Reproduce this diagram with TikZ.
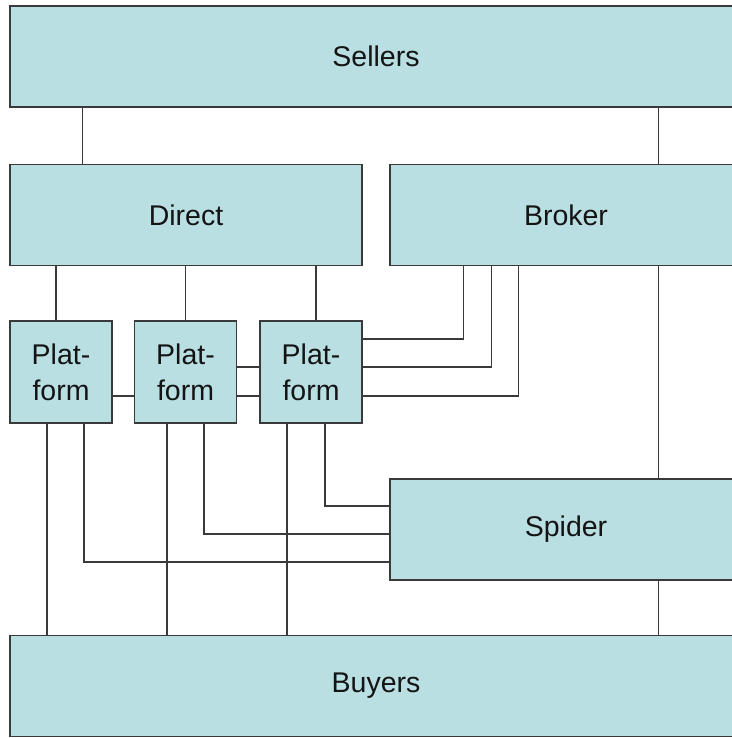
\documentclass[tikz,border=0pt]{standalone}
\usepackage{fontspec}
\setmainfont{Liberation Sans}
\usetikzlibrary{positioning, calc}
\definecolor{BoxTeal}{HTML}{B9DFE3}
\definecolor{EdgeGrey}{HTML}{3A3A3A}
\definecolor{InkBlack}{HTML}{141414}

\begin{document}
\begin{tikzpicture}[
    x=1pt, y=-1pt,
    box/.style={rectangle, draw=EdgeGrey, fill=BoxTeal, line width=1.5pt,
                inner sep=0pt, text=InkBlack, align=center,
                font=\fontsize{28.5}{36}\selectfont},
    wide/.style={box, minimum width=732pt, minimum height=101pt},
    half/.style={box, minimum width=352pt, minimum height=101pt},
    plat/.style={box, minimum width=102pt, minimum height=102pt},
    link/.style={draw=EdgeGrey, line width=1.5pt}
]
  \useasboundingbox (0,0) rectangle (731,738);

  \node[wide] (sellers) at (376,56.5) {Sellers};
  \node[half] (direct) at (186,215) {Direct};
  \node[half] (broker) at (566,215) {Broker};
  \node[plat] (p1) at (61,372) {Plat-\\form};
  \node[plat] (p2) at (185.5,372) {Plat-\\form};
  \node[plat] (p3) at (311,372) {Plat-\\form};
  \node[half] (spider) at (566,529.5) {Spider};
  \node[wide] (buyers) at (376,686) {Buyers};

  % sellers to channels
  \draw[link] ([xshift=73pt]direct.north west) coordinate (sd) -- (sd |- sellers.south);
  \draw[link] ([xshift=269pt]broker.north west) coordinate (sb) -- (sb |- sellers.south);

  % direct to platforms
  \draw[link] ([xshift=-5pt]p1.north) coordinate (d1) -- (d1 |- direct.south);
  \draw[link] (p2.north) -- (p2.north |- direct.south);
  \draw[link] ([xshift=5pt]p3.north) coordinate (d3) -- (d3 |- direct.south);

  % platforms side by side
  \draw[link] ([yshift=-24pt]p1.east) coordinate (q1) -- (q1 -| p2.west);
  \draw[link] ([yshift=5pt]p2.east) coordinate (q2) -- (q2 -| p3.west);
  \draw[link] ([yshift=-24pt]p2.east) coordinate (q3) -- (q3 -| p3.west);

  % platform to broker
  \draw[link] ([yshift=33pt]p3.east) -| ([xshift=74pt]broker.south west);
  \draw[link] ([yshift=5pt]p3.east) -| ([xshift=102pt]broker.south west);
  \draw[link] ([yshift=-24pt]p3.east) -| ([xshift=129pt]broker.south west);

  % broker, spider, buyers
  \draw[link] ([xshift=269pt]broker.south west) -- ([xshift=269pt]spider.north west);
  \draw[link] ([xshift=269pt]spider.south west) coordinate (sy) -- (sy |- buyers.north);

  % platforms to spider
  \draw[link] ([xshift=23pt]p1.south) |- ([yshift=-32.5pt]spider.west);
  \draw[link] ([xshift=18.5pt]p2.south) |- ([yshift=-4.5pt]spider.west);
  \draw[link] ([xshift=14pt]p3.south) |- ([yshift=23.5pt]spider.west);

  % platforms to buyers
  \draw[link] ([xshift=-14pt]p1.south) coordinate (b1) -- (b1 |- buyers.north);
  \draw[link] ([xshift=-18.5pt]p2.south) coordinate (b2) -- (b2 |- buyers.north);
  \draw[link] ([xshift=-24pt]p3.south) coordinate (b3) -- (b3 |- buyers.north);
\end{tikzpicture}
\end{document}
